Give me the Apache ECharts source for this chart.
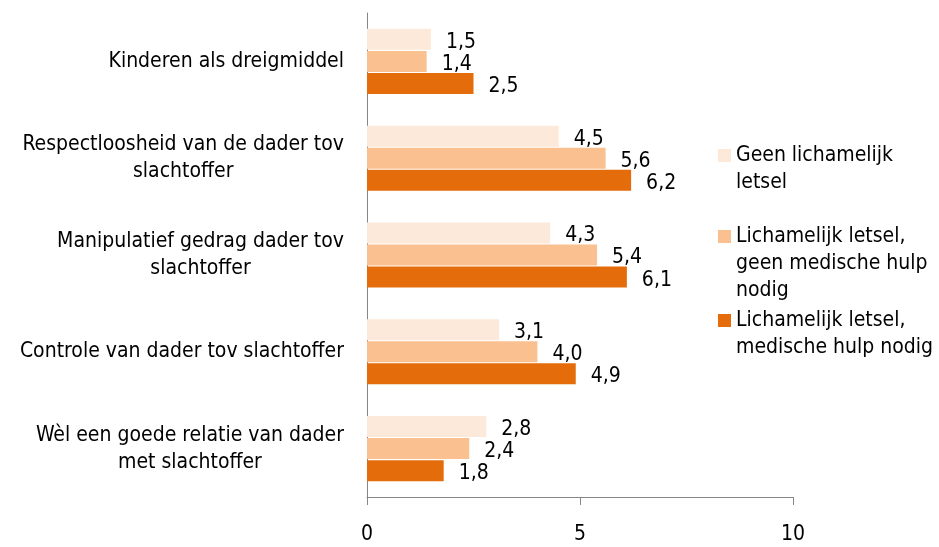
<!DOCTYPE html>
<html>
<head>
<meta charset="utf-8">
<script src="https://cdn.jsdelivr.net/npm/echarts@6/dist/echarts.min.js"></script>
<style>
  html, body { margin: 0; padding: 0; background: #fff; }
  #chart { width: 939px; height: 547px; }
</style>
</head>
<body>
<div id="chart"></div>
<script>
// Categories, top to bottom
const categories = [
  'Kinderen als dreigmiddel',
  'Respectloosheid van de dader tov\nslachtoffer',
  'Manipulatief gedrag dader tov\nslachtoffer',
  'Controle van dader tov slachtoffer',
  'Wèl een goede relatie van dader\nmet slachtoffer'
];

const seriesNames = [
  'Geen lichamelijk\nletsel',
  'Lichamelijk letsel,\ngeen medische hulp\nnodig',
  'Lichamelijk letsel,\nmedische hulp nodig'
];

const geenLetsel = [1.5, 4.5, 4.3, 3.1, 2.8];
const letselGeenHulp = [1.4, 5.6, 5.4, 4.0, 2.4];
const letselMetHulp = [2.5, 6.2, 6.1, 4.9, 1.8];

const xTicks = [0, 5, 10];

const colors = ['#FDE9D9', '#FAC090', '#E46C0A'];
const FONT = '"DejaVu Sans Condensed", "DejaVu Sans", sans-serif';
const FS = 21;
const LH = 27;

const chart = echarts.init(document.getElementById('chart'));

function barSeries(name, data, color) {
  return {
    name: name,
    type: 'bar',
    data: data,
    barWidth: 21,
    barGap: '5%',
    itemStyle: { color: color },
    label: {
      show: true,
      position: 'right',
      distance: 15,
      offset: [0, 3],
      color: '#000',
      fontFamily: FONT,
      fontSize: FS,
      formatter: p => p.value.toFixed(1).replace('.', ',')
    },
    animation: false
  };
}

// One legend block per series. The legend centres its text on the icon, so
// blank lines are prepended to put the icon beside the first text line.
const legendIconCenters = [155, 236, 320];
const legends = seriesNames.map((n, i) => {
  const lines = n.split('\n').length;
  const total = 2 * lines - 1;
  return {
    orient: 'vertical',
    left: 718,
    top: Math.round(legendIconCenters[i] - total * LH / 2),
    itemWidth: 13,
    itemHeight: 13,
    itemGap: 0,
    padding: 0,
    icon: 'rect',
    selectedMode: false,
    data: [n],
    formatter: name => '\n'.repeat(lines - 1) + name,
    textStyle: {
      color: '#000',
      fontFamily: FONT,
      fontSize: FS,
      lineHeight: LH
    }
  };
});

chart.setOption({
  backgroundColor: '#fff',
  animation: false,
  legend: legends,
  grid: { left: 367, right: 146, top: 13, bottom: 50, containLabel: false },
  xAxis: {
    type: 'value',
    min: 0,
    max: 10,
    interval: 5,
    splitLine: { show: false },
    axisLine: { show: true, lineStyle: { color: '#868686', width: 1 } },
    axisTick: { show: true, length: 8, lineStyle: { color: '#868686' } },
    axisLabel: {
      color: '#000',
      fontFamily: FONT,
      fontSize: FS,
      margin: 27,
      formatter: v => xTicks.includes(v) ? String(v) : ''
    }
  },
  yAxis: {
    type: 'category',
    inverse: true,
    data: categories,
    axisLine: { show: true, lineStyle: { color: '#868686', width: 1 } },
    axisTick: { show: false },
    axisLabel: {
      color: '#000',
      fontFamily: FONT,
      fontSize: FS,
      margin: 23,
      align: 'right',
      lineHeight: LH,
      formatter: v => v.split('\n').map(l => '{c|' + l + '}').join('\n'),
      rich: {
        c: { align: 'center', color: '#000', fontFamily: FONT, fontSize: FS, lineHeight: LH }
      }
    }
  },
  series: [
    barSeries(seriesNames[0], geenLetsel, colors[0]),
    barSeries(seriesNames[1], letselGeenHulp, colors[1]),
    barSeries(seriesNames[2], letselMetHulp, colors[2])
  ]
});
</script>
</body>
</html>
